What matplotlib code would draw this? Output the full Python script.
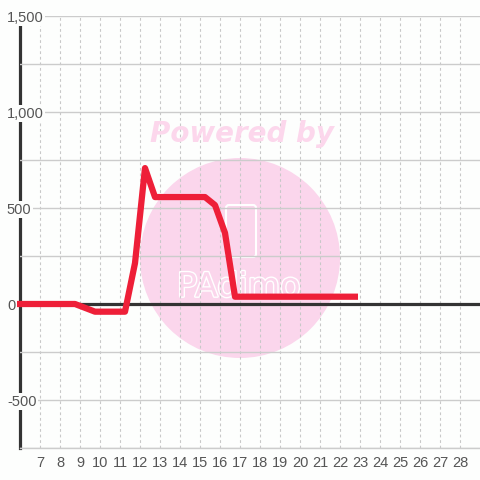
import matplotlib
matplotlib.use("Agg")
import matplotlib.pyplot as plt
from matplotlib.patches import Circle, FancyBboxPatch
import matplotlib.patheffects as pe

# ---- data ----
x_hours = [5.85, 8.75, 9.75, 11.25, 11.75, 12.25, 12.75, 15.25, 15.75, 16.25, 16.75, 22.9]
values = [0, 0, -40, -40, 213, 708, 557, 557, 515, 370, 38, 38]
x_ticks = list(range(7, 29))
y_ticks = [-500, 0, 500, 1000, 1500]
y_tick_labels = ["-500", "0", "500", "1,000", "1,500"]

plt.rcParams['font.family'] = ['Liberation Sans', 'DejaVu Sans']
bg = '#fdfefd'
fig = plt.figure(figsize=(4.8, 4.8), dpi=100, facecolor=bg)
ax = fig.add_axes([20/480, 32/480, 460/480, 432/480])
ax.set_facecolor(bg)

# watermark circle & texts (decoration)
circ = Circle((240/480, 222/480), 100/480, transform=fig.transFigure,
              facecolor='#fbd6ec', edgecolor='none', zorder=0.1, clip_on=False)
ax.add_artist(circ)
fig.text(242/480, 1 - 134/480, "Powered by", family='DejaVu Sans', fontsize=20,
         fontweight='bold', fontstyle='italic', color='#fcd7ec',
         ha='center', va='center', zorder=0.15)
box = FancyBboxPatch((226/480, 1 - 257/480), 30/480, 52/480,
                     boxstyle='round,pad=0,rounding_size=0.006',
                     transform=fig.transFigure, facecolor='none',
                     edgecolor='white', linewidth=1.5, zorder=0.2, clip_on=False)
ax.add_artist(box)
ax.text(239/480, 1 - 287/480, "PAdimo", transform=fig.transFigure,
        family='DejaVu Sans', fontsize=24, color='#fbd6ec', ha='center', va='center',
        zorder=0.2, path_effects=[pe.withStroke(linewidth=2, foreground='white')])

ax.set_xlim(6, 29)
ax.set_ylim(-750, 1500)

# grids
ax.set_axisbelow(True)
minor_y = [-750, -250, 250, 750, 1250]
all_y = sorted(y_ticks + minor_y)
ax.set_yticks(all_y, [y_tick_labels[y_ticks.index(v)] if v in y_ticks else "" for v in all_y])
ax.set_xticks(x_ticks, [str(t) for t in x_ticks])
ax.grid(axis='y', color='#cccccc', linewidth=1, linestyle='-')
ax.grid(axis='x', color='#c8c8c8', linewidth=0.8, linestyle=(0, (2.5, 2.5)))
ax.tick_params(axis='y', length=0, pad=9.4, labelsize=10.5, labelcolor='#555555')
ax.tick_params(axis='x', length=0, pad=6, labelsize=10.5, labelcolor='#555555')
for lbl in ax.get_yticklabels():
    lbl.set_horizontalalignment('left')
    lbl.set_bbox(dict(facecolor=bg, edgecolor='none', pad=1))

for s in ['top', 'right']:
    ax.spines[s].set_visible(False)
ax.spines['left'].set_color('#333333')
ax.spines['left'].set_linewidth(2.3)
ax.spines['left'].set_zorder(0.4)
ax.spines['bottom'].set_color('#cccccc')
ax.spines['bottom'].set_linewidth(1)
ax.spines['bottom'].set_zorder(0.4)

ax.axhline(0, color='#333333', linewidth=2.3, zorder=2)

ax.plot(x_hours, values, color='#ee1f38', linewidth=4.5, solid_capstyle='butt',
        solid_joinstyle='round', zorder=3, clip_on=False)

fig.savefig('out.png', dpi=100, facecolor=bg)
